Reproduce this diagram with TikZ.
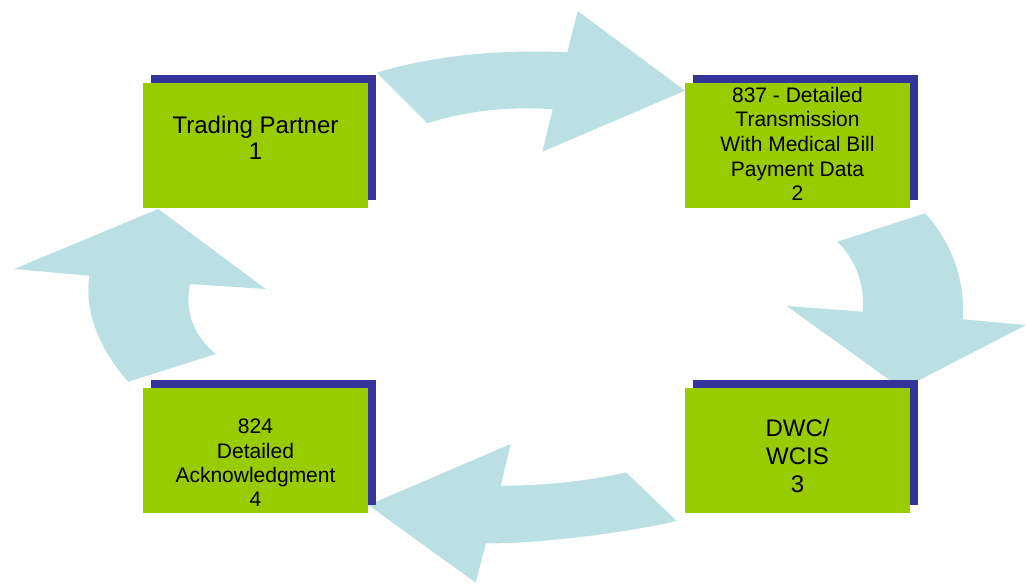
\documentclass[tikz,border=0pt]{standalone}
\usepackage{fontspec}
\setmainfont{Liberation Sans}
\usepackage{xcolor}
\usepackage{tikz}
\usetikzlibrary{shadows}

\definecolor{boxgreen}{HTML}{99CC00}
\definecolor{shadowblue}{HTML}{333399}
\definecolor{arrowblue}{HTML}{BBE0E3}

\tikzset{
  stepbox/.style={fill=boxgreen, minimum width=112.5pt, minimum height=62.5pt, inner sep=0pt,
    general shadow={fill=shadowblue, shadow xshift=4pt, shadow yshift=4pt}},
  bigtext/.style={anchor=north, inner sep=0pt, align=center},
  flow/.style={fill=arrowblue}
}

\begin{document}
\begin{tikzpicture}[x=0.5pt, y=-0.5pt]
    \useasboundingbox (0,0) rectangle (1026,583);

    \fill[flow] (376.7,72.7) .. controls (430,56) and (500,49) .. (567.3,52.3) -- (577.7,11) -- (685,90.7)
      -- (542.3,151.7) -- (552.7,109.3) .. controls (510,106) and (465,111) .. (427.3,123.3) -- cycle;
    \fill[flow] (925,213.3) .. controls (950,240) and (966,280) .. (962.7,319.3) -- (1026,325) -- (902,389)
      -- (786.7,306) -- (862.7,311.7) .. controls (865,285) and (856,260) .. (837.3,241.7) -- cycle;
    \fill[flow] (368.3,505) -- (510.7,444) -- (500.7,485.7) .. controls (540,486) and (590,481) .. (626,472.3)
      -- (676.7,521) .. controls (630,532) and (540,544) .. (486,543.3) -- (475.7,582.7) -- cycle;
    \fill[flow] (158.3,209) -- (265.7,289) -- (190,284) .. controls (184,315) and (196,338) .. (216,354)
      -- (128.3,381.7) .. controls (100,350) and (84,312) .. (89.3,275.7) -- (14,269) -- cycle;

    \node[stepbox] (tp) at (255.5, 145.5) {};
    \node[stepbox] (tx) at (797.5, 145.5) {};
    \node[stepbox] (dwc) at (797.5, 450) {};
    \node[stepbox] (ack) at (255.5, 450) {};

    \node[bigtext, font=\fontsize{12}{13}\selectfont] (tp-text) at (255.5, 116) {Trading Partner\\1};
    \node[bigtext, font=\fontsize{10.5}{12.3}\selectfont] (tx-text) at (797.5, 86.6) {837 - Detailed\\Transmission\\With Medical Bill\\Payment Data\\2};
    \node[bigtext, font=\fontsize{12}{14}\selectfont] (dwc-text) at (797.5, 418.4) {DWC/\\WCIS\\3};
    \node[bigtext, font=\fontsize{10.5}{12.1}\selectfont] (ack-text) at (255.5, 418.9) {824\\Detailed\\Acknowledgment\\4};
\end{tikzpicture}
\end{document}
